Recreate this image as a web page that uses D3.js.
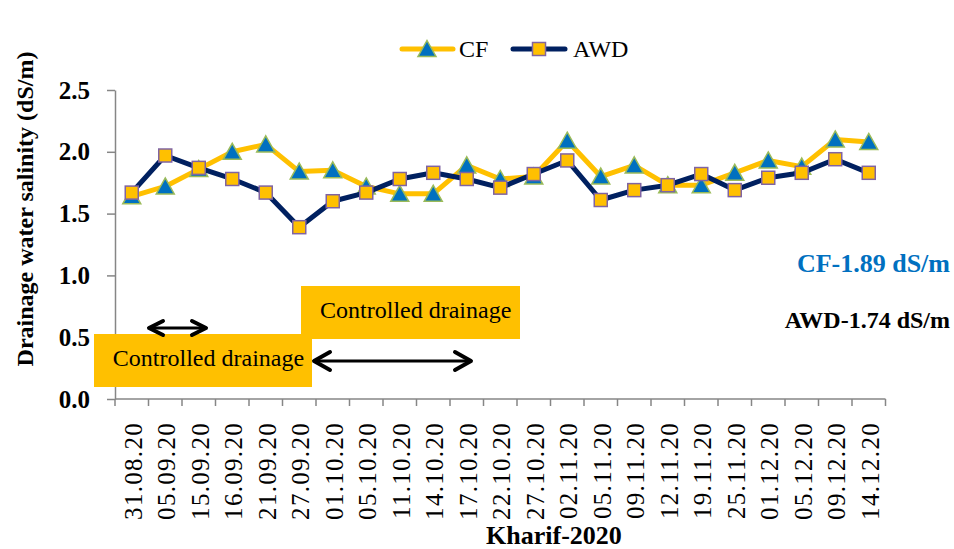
<!DOCTYPE html>
<html>
<head>
<meta charset="utf-8">
<script src="https://cdn.jsdelivr.net/npm/d3@7"></script>
<style>
  html, body { margin: 0; padding: 0; background: #fff; }
  svg { display: block; font-family: "Liberation Serif", "Times New Roman", serif; }
</style>
</head>
<body>
<svg id="chart" width="954" height="549"></svg>
<script>
// ---- data ----
const dates = ["31.08.20","05.09.20","15.09.20","16.09.20","21.09.20","27.09.20","01.10.20","05.10.20","11.10.20","14.10.20","17.10.20","22.10.20","27.10.20","02.11.20","05.11.20","09.11.20","12.11.20","19.11.20","25.11.20","01.12.20","05.12.20","09.12.20","14.12.20"];
const cfValues  = [1.64,1.72,1.86,2.00,2.06,1.84,1.85,1.72,1.66,1.66,1.89,1.78,1.80,2.09,1.80,1.89,1.73,1.73,1.83,1.93,1.88,2.10,2.08];
const awdValues = [1.67,1.97,1.87,1.78,1.67,1.39,1.60,1.67,1.78,1.83,1.78,1.71,1.82,1.93,1.61,1.69,1.73,1.82,1.69,1.79,1.83,1.94,1.83];
const yTicks = [0, 0.5, 1.0, 1.5, 2.0, 2.5];
const seriesNames = ["CF", "AWD"];
const meanLabels = ["CF-1.89 dS/m", "AWD-1.74 dS/m"];
const annotationText = "Controlled drainage";
const yTitle = "Drainage water salinity (dS/m)";
const xTitle = "Kharif-2020";

(function () {
// ---- layout ----
const svg = d3.select("#chart");
const pLeft = 115, pRight = 885.5, pTop = 90, pBottom = 399;
const axisColor = "#868686";
const cfLine = "#FFC000", awdLine = "#002060";

const x = d3.scaleBand().domain(dates).range([pLeft, pRight]).padding(0);
const y = d3.scaleLinear().domain([0, 2.5]).range([pBottom, pTop]);
const cx = d => x(d) + x.bandwidth() / 2;

// y axis
const yAxis = d3.axisLeft(y).tickValues(yTicks).tickFormat(d3.format(".1f")).tickSize(8).tickSizeOuter(0).tickPadding(17);
const gy = svg.append("g").attr("transform", `translate(${pLeft},0)`).call(yAxis);
gy.select(".domain").attr("stroke", axisColor).attr("stroke-width", 1.5);
gy.selectAll(".tick line").attr("stroke", axisColor).attr("stroke-width", 1.5);
gy.selectAll(".tick text").attr("font-family", "Liberation Serif").attr("font-weight", "bold")
  .attr("font-size", 25).attr("fill", "#000");

// x axis line & ticks at category boundaries
svg.append("line").attr("x1", pLeft).attr("x2", pRight).attr("y1", pBottom).attr("y2", pBottom)
  .attr("stroke", axisColor).attr("stroke-width", 1.5);
const bounds = dates.map(d => x(d)).concat([pRight]);
svg.append("g").selectAll("line").data(bounds).join("line")
  .attr("x1", d => d).attr("x2", d => d).attr("y1", pBottom).attr("y2", pBottom + 7)
  .attr("stroke", axisColor).attr("stroke-width", 1.5);

// x labels (rotated)
svg.append("g").selectAll("text").data(dates).join("text")
  .attr("transform", d => `translate(${cx(d) + 1},${pBottom + 23}) rotate(-90)`)
  .attr("text-anchor", "end").attr("dy", "0.35em")
  .attr("font-size", 25).attr("letter-spacing", 1.3).attr("fill", "#000")
  .text(d => d);

// axis titles
svg.append("text").attr("transform", `translate(33,209) rotate(-90)`)
  .attr("text-anchor", "middle").attr("font-weight", "bold").attr("font-size", 24)
  .text(yTitle);
svg.append("text").attr("x", 554).attr("y", 544).attr("text-anchor", "middle")
  .attr("font-weight", "bold").attr("font-size", 26).text(xTitle);

// annotation boxes
function box(x0, y0, x1, y1, tx, ty) {
  svg.append("rect").attr("x", x0).attr("y", y0).attr("width", x1 - x0).attr("height", y1 - y0).attr("fill", "#FFC000");
  svg.append("text").attr("x", tx).attr("y", ty).attr("text-anchor", "middle")
    .attr("font-size", 24).attr("fill", "#000").text(annotationText);
}
box(301, 286, 520, 339, 415.7, 318);
box(94, 334, 312, 387, 208.5, 366);

// double-headed arrows
function arrow(x0, x1, yy, hl, hw) {
  const g = svg.append("g").attr("fill", "none").attr("stroke", "#000").attr("stroke-linecap", "round").attr("stroke-linejoin", "round");
  g.append("line").attr("x1", x0 + 1).attr("x2", x1 - 1).attr("y1", yy).attr("y2", yy).attr("stroke-width", 3);
  g.append("path").attr("d", `M${x0 + hl},${yy - hw}L${x0},${yy}L${x0 + hl},${yy + hw}`).attr("stroke-width", 4);
  g.append("path").attr("d", `M${x1 - hl},${yy - hw}L${x1},${yy}L${x1 - hl},${yy + hw}`).attr("stroke-width", 4);
}
arrow(149, 206, 328, 14, 7);
arrow(314, 471, 361, 16, 9);

// lines
const line = d3.line().x((d, i) => cx(dates[i])).y(d => y(d));
const triPath = (px, py) => `M${px},${py - 8.5}L${px + 9},${py + 7.5}L${px - 9},${py + 7.5}Z`;

svg.append("path").datum(cfValues).attr("d", line).attr("fill", "none")
  .attr("stroke", cfLine).attr("stroke-width", 5).attr("stroke-linejoin", "round");
svg.append("g").selectAll("path").data(cfValues).join("path")
  .attr("d", (d, i) => triPath(cx(dates[i]), y(d)))
  .attr("fill", "#0070C0").attr("stroke", "#9BBB59").attr("stroke-width", 1.5);

svg.append("path").datum(awdValues).attr("d", line).attr("fill", "none")
  .attr("stroke", awdLine).attr("stroke-width", 5).attr("stroke-linejoin", "round");
svg.append("g").selectAll("rect").data(awdValues).join("rect")
  .attr("x", (d, i) => cx(dates[i]) - 6.5).attr("y", d => y(d) - 6.5)
  .attr("width", 13).attr("height", 13)
  .attr("fill", "#FFC000").attr("stroke", "#8064A2").attr("stroke-width", 1.5);

// legend
const lg = svg.append("g");
lg.append("line").attr("x1", 402).attr("x2", 453).attr("y1", 49).attr("y2", 49).attr("stroke", cfLine).attr("stroke-width", 5).attr("stroke-linecap", "round");
lg.append("path").attr("d", triPath(427, 49)).attr("fill", "#0070C0").attr("stroke", "#9BBB59").attr("stroke-width", 1.5);
lg.append("text").attr("x", 459).attr("y", 57).attr("font-size", 24).text(seriesNames[0]);
lg.append("line").attr("x1", 513).attr("x2", 565).attr("y1", 49).attr("y2", 49).attr("stroke", awdLine).attr("stroke-width", 5).attr("stroke-linecap", "round");
lg.append("rect").attr("x", 539 - 6.5).attr("y", 49 - 6.5).attr("width", 13).attr("height", 13)
  .attr("fill", "#FFC000").attr("stroke", "#8064A2").attr("stroke-width", 1.5);
lg.append("text").attr("x", 573).attr("y", 57).attr("font-size", 24).text(seriesNames[1]);

// mean labels
svg.append("text").attr("x", 950).attr("y", 272).attr("text-anchor", "end")
  .attr("font-weight", "bold").attr("font-size", 26).attr("fill", "#0070C0").text(meanLabels[0]);
svg.append("text").attr("x", 950).attr("y", 328).attr("text-anchor", "end")
  .attr("font-weight", "bold").attr("font-size", 24).attr("fill", "#000").text(meanLabels[1]);
})();
</script>
</body>
</html>
